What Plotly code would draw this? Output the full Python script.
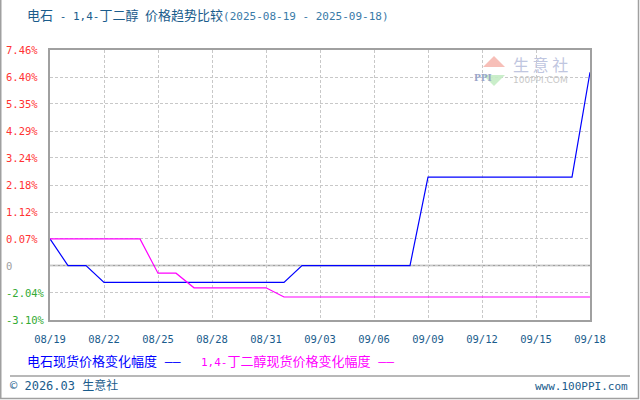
import plotly.graph_objects as go
import pandas as pd

# ---------------- data ----------------
dates = pd.date_range("2025-08-19", "2025-09-18", freq="D")
calcium_carbide = [0.07, -0.97, -0.97, -1.63, -1.63, -1.63, -1.63, -1.63, -1.63, -1.63,
                   -1.63, -1.63, -1.63, -1.63, -0.97, -0.97, -0.97, -0.97, -0.97, -0.97,
                   -0.97, 2.49, 2.49, 2.49, 2.49, 2.49, 2.49, 2.49, 2.49, 2.49, 6.59]
bdo = [0.07, 0.07, 0.07, 0.07, 0.07, 0.07, -1.27, -1.27, -1.84, -1.84,
       -1.84, -1.84, -1.84, -2.20, -2.20, -2.20, -2.20, -2.20, -2.20, -2.20,
       -2.20, -2.20, -2.20, -2.20, -2.20, -2.20, -2.20, -2.20, -2.20, -2.20, -2.20]
y_tickvals = [7.46, 6.40, 5.35, 4.29, 3.24, 2.18, 1.12, 0.07, -0.97, -2.04, -3.10]
y_ticktext = ["7.46%", "6.40%", "5.35%", "4.29%", "3.24%", "2.18%", "1.12%", "0.07%", "0", "-2.04%", "-3.10%"]
x_tickvals = pd.date_range("2025-08-19", "2025-09-18", freq="3D")
x_ticktext = [d.strftime("%m/%d") for d in x_tickvals]
zero_level = -0.97
series_names = ["电石现货价格变化幅度", "1,4-丁二醇现货价格变化幅度"]
title_dates = "(2025-08-19 - 2025-09-18)"

# ---------------- layout helpers ----------------
W, H = 640, 400
L, R, T, B = 50, 50, 50, 80
PW, PH = W - L - R, H - T - B

def X(px):
    return (px - L) / PW

def Y(py):
    return (H - B - py) / PH

def small(s, size=11):
    return f"<span style='font-size:{size}px'>{s}</span>"

MONO = "DejaVu Sans Mono, Noto Sans CJK SC, monospace"
CJK = "Noto Sans CJK SC, DejaVu Sans Mono, sans-serif"
BLUE = "#0000ff"
MAGENTA = "#ff00ff"
TEXTBLUE = "#1a5c8c"

fig = go.Figure()
fig.add_trace(go.Scatter(x=dates, y=calcium_carbide, mode="lines",
                         line=dict(color=BLUE, width=1.2), name=series_names[0]))
fig.add_trace(go.Scatter(x=dates, y=bdo, mode="lines",
                         line=dict(color=MAGENTA, width=1.2), name=series_names[1]))

fig.update_layout(
    width=W, height=H,
    margin=dict(l=L, r=R, t=T, b=B, pad=0),
    paper_bgcolor="white", plot_bgcolor="white",
    showlegend=False,
    xaxis=dict(range=[dates[0], dates[-1]], tickvals=x_tickvals, ticktext=x_ticktext,
               showgrid=True, gridcolor="#c8c8c8", griddash="3px,2px", gridwidth=1,
               showline=True, linecolor="#a0a0a0", linewidth=1.5, mirror=True,
               ticks="", tickfont=dict(family=MONO, size=10.5, color=TEXTBLUE),
               ticklabelstandoff=9, zeroline=False, fixedrange=True),
    yaxis=dict(range=[y_tickvals[-1], y_tickvals[0]], tickvals=y_tickvals,
               showticklabels=False, showgrid=True, gridcolor="#c8c8c8",
               griddash="3px,2px", gridwidth=1,
               showline=True, linecolor="#a0a0a0", linewidth=1.5, mirror=True,
               zeroline=False, fixedrange=True),
)

# zero reference line
fig.add_shape(type="line", xref="paper", yref="y", x0=0, x1=1, y0=zero_level, y1=zero_level,
              line=dict(color="#a0a0a0", width=1.5), layer="below")

# y tick labels, coloured by sign
for v, t in zip(y_tickvals, y_ticktext):
    if t == "0":
        c = "#a0a0a0"
    elif t.startswith("-"):
        c = "#33aa33"
    else:
        c = "#ff3333"
    fig.add_annotation(xref="paper", yref="y", x=X(4), y=v, text=t, showarrow=False,
                       xanchor="left", yanchor="middle",
                       font=dict(family=MONO, size=10.5, color=c))

# title
title_text = ("电石" + small(" - 1,4-") + "丁二醇" + small(" ") + "价格趋势比较"
              + f"<span style='color:#3a7aa8;font-size:11px'>{title_dates}</span>")
fig.add_annotation(xref="paper", yref="paper", x=X(25), y=Y(16), xanchor="left", yanchor="middle",
                   showarrow=False, text=title_text,
                   font=dict(family=MONO, size=13, color=TEXTBLUE))

# legend (as text)
fig.add_annotation(xref="paper", yref="paper", x=X(25), y=Y(361), xanchor="left", yanchor="middle",
                   showarrow=False, text=series_names[0] + " ——",
                   font=dict(family=MONO, size=13, color=BLUE))
fig.add_annotation(xref="paper", yref="paper", x=X(199), y=Y(361), xanchor="left", yanchor="middle",
                   showarrow=False, text=small("1,4-") + series_names[1][4:] + " ——",
                   font=dict(family=MONO, size=13, color=MAGENTA))

# footer
fig.add_shape(type="line", xref="paper", yref="paper", x0=X(10), x1=X(630), y0=Y(376), y1=Y(376),
              line=dict(color="#a0a0a0", width=1.5))
fig.add_annotation(xref="paper", yref="paper", x=X(8), y=Y(385), xanchor="left", yanchor="middle",
                   showarrow=False, text="© 2026.03 生意社",
                   font=dict(family=MONO, size=12, color=TEXTBLUE))
fig.add_annotation(xref="paper", yref="paper", x=X(630), y=Y(386), xanchor="right", yanchor="middle",
                   showarrow=False, text="www.100PPI.com",
                   font=dict(family=MONO, size=11, color=TEXTBLUE))

# outer frame (left, right, bottom)
fig.add_shape(type="path", xref="paper", yref="paper",
              path=f"M {X(0.75)} {Y(0)} L {X(0.75)} {Y(398.5)} L {X(638.5)} {Y(398.5)} L {X(638.5)} {Y(0)}",
              line=dict(color="#a0a0a0", width=1.5))

# watermark logo
fig.add_shape(type="path", xref="paper", yref="paper",
              path=f"M {X(483)} {Y(67)} L {X(494)} {Y(56)} L {X(505)} {Y(67)} Z",
              fillcolor="#f6b8b0", line=dict(width=0), opacity=0.9)
fig.add_shape(type="path", xref="paper", yref="paper",
              path=f"M {X(483)} {Y(75)} L {X(494)} {Y(86)} L {X(505)} {Y(75)} Z",
              fillcolor="#c4ecc4", line=dict(width=0), opacity=0.9)
fig.add_annotation(xref="paper", yref="paper", x=X(494), y=Y(71), showarrow=False,
                   text="<b>PPI</b>", font=dict(family="DejaVu Serif", size=9, color="#9aa6c8"))
fig.add_annotation(xref="paper", yref="paper", x=X(511), y=Y(64), xanchor="left", yanchor="middle",
                   showarrow=False, text="生 意 社",
                   font=dict(family=CJK, size=16, color="#c0c6e0"))
fig.add_annotation(xref="paper", yref="paper", x=X(511), y=Y(80), xanchor="left", yanchor="middle",
                   showarrow=False, text="100PPI.COM",
                   font=dict(family="DejaVu Sans", size=9, color="#c8c8c8"))

fig.write_html("out.html", config={"displayModeBar": False},
               post_script="document.body.style.margin='0';document.body.style.overflow='hidden';")
